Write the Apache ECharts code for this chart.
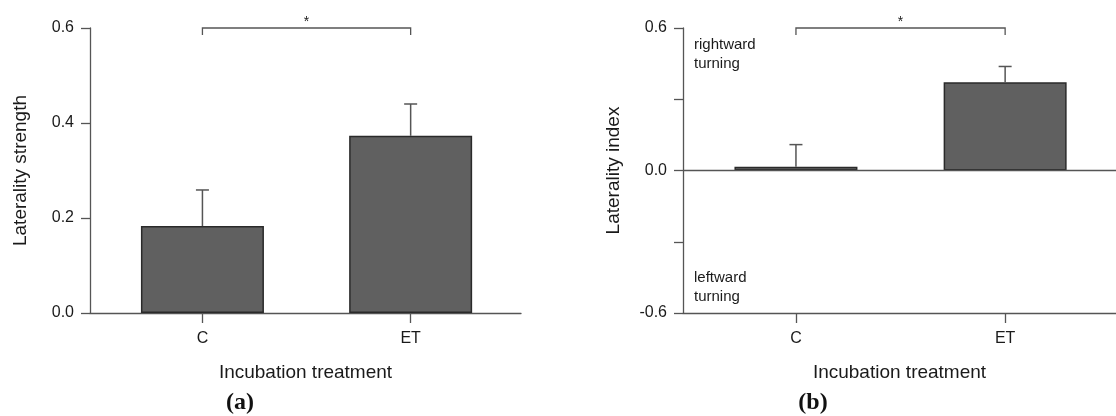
<!DOCTYPE html>
<html>
<head>
<meta charset="utf-8">
<script src="https://cdn.jsdelivr.net/npm/echarts@6/dist/echarts.min.js"></script>
<style>
html,body{margin:0;padding:0;background:#fff;}
#chart{width:1116px;height:416px;}
</style>
</head>
<body>
<div id="chart"></div>
<script>
// ---- data ----
const categories = ['C', 'ET'];
const strengthMean = [0.183, 0.373];
const strengthErrTop = [0.259, 0.440];
const indexMean = [0.016, 0.372];
const indexErrTop = [0.109, 0.438];
const yLabelsA = [0, 0.2, 0.4, 0.6];
const yLabelsB = [-0.6, 0, 0.6];
const sigPair = [0, 1];
const sigLevelA = 0.6;
const sigLevelB = 0.6;

const axisColor = '#555';
const textColor = '#1a1a1a';
const font = 'Liberation Sans, Arial, sans-serif';

function barData(means) { return means.map((v, i) => [i, v]); }
function errData(means, tops) { return means.map((v, i) => [i, v, tops[i]]); }

function errRender(params, api) {
  const x = api.value(0), y = api.value(1), t = api.value(2);
  const p0 = api.coord([x, y]);
  const p1 = api.coord([x, t]);
  return {
    type: 'group',
    children: [
      { type: 'line', shape: { x1: p0[0], y1: p0[1], x2: p1[0], y2: p1[1] }, style: { stroke: axisColor, lineWidth: 1.5 } },
      { type: 'line', shape: { x1: p1[0] - 6.5, y1: p1[1], x2: p1[0] + 6.5, y2: p1[1] }, style: { stroke: axisColor, lineWidth: 1.5 } }
    ]
  };
}

function bracketRender(params, api) {
  const a = api.value(0), b = api.value(1), lev = api.value(2);
  const p0 = api.coord([a, lev]);
  const p1 = api.coord([b, lev]);
  return {
    type: 'group',
    children: [
      { type: 'polyline', shape: { points: [[p0[0], p0[1] + 7], [p0[0], p0[1]], [p1[0], p1[1]], [p1[0], p1[1] + 7]] },
        style: { stroke: axisColor, lineWidth: 1.3, fill: null } },
      { type: 'text', style: { text: '*', x: (p0[0] + p1[0]) / 2, y: p0[1] - 6, align: 'center', verticalAlign: 'middle',
        font: '14px ' + font, fill: textColor } }
    ]
  };
}

function xAxisDef(gridIndex) {
  return {
    type: 'value', gridIndex: gridIndex, min: -0.54, max: 1.53,
    name: 'Incubation treatment', nameLocation: 'middle', nameGap: 50,
    nameTextStyle: { fontSize: 19, color: textColor, fontFamily: font },
    splitLine: { show: false },
    axisLine: { show: true, onZero: false, lineStyle: { color: axisColor, width: 1.3 } },
    axisTick: { show: true, customValues: [0, 1], length: 10, lineStyle: { color: axisColor, width: 1.3 } },
    axisLabel: { customValues: [0, 1], formatter: v => categories[Math.round(v)], fontSize: 16, color: textColor, fontFamily: font, margin: 18 }
  };
}

function yAxisDef(gridIndex, min, max, interval, name, labels) {
  return {
    type: 'value', gridIndex: gridIndex, min: min, max: max, interval: interval,
    name: name, nameLocation: 'middle', nameGap: 60,
    nameTextStyle: { fontSize: 19, color: textColor, fontFamily: font },
    splitLine: { show: false },
    axisLine: { show: true, onZero: false, lineStyle: { color: axisColor, width: 1.3 } },
    axisTick: { show: true, length: 9, lineStyle: { color: axisColor, width: 1.3 } },
    axisLabel: { customValues: labels, formatter: v => v.toFixed(1), fontSize: 16, color: textColor, fontFamily: font, margin: 16 }
  };
}

const chart = echarts.init(document.getElementById('chart'));
chart.setOption({
  animation: false,
  backgroundColor: '#fff',
  grid: [
    { left: 90, top: 28, width: 431, height: 285 },
    { left: 683, top: 28, width: 433, height: 285 }
  ],
  xAxis: [xAxisDef(0), xAxisDef(1)],
  yAxis: [
    yAxisDef(0, 0, 0.6, 0.2, 'Laterality strength', yLabelsA),
    yAxisDef(1, -0.6, 0.6, 0.3, 'Laterality index', yLabelsB)
  ],
  series: [
    {
      type: 'bar', xAxisIndex: 0, yAxisIndex: 0, data: barData(strengthMean), barWidth: 123,
      itemStyle: { color: '#606060', borderColor: '#2a2a2a', borderWidth: 1.5 }
    },
    {
      type: 'custom', xAxisIndex: 0, yAxisIndex: 0, data: errData(strengthMean, strengthErrTop), renderItem: errRender, z: 3
    },
    {
      type: 'custom', xAxisIndex: 0, yAxisIndex: 0, data: [[sigPair[0], sigPair[1], sigLevelA]], renderItem: bracketRender, clip: false
    },
    {
      type: 'bar', xAxisIndex: 1, yAxisIndex: 1, data: barData(indexMean), barWidth: 123,
      itemStyle: { color: '#606060', borderColor: '#2a2a2a', borderWidth: 1.5 },
      markLine: {
        silent: true, symbol: ['none', 'none'], label: { show: false },
        lineStyle: { color: axisColor, type: 'solid', width: 1.3 },
        data: [{ yAxis: 0 }]
      }
    },
    {
      type: 'custom', xAxisIndex: 1, yAxisIndex: 1, data: errData(indexMean, indexErrTop), renderItem: errRender, z: 3
    },
    {
      type: 'custom', xAxisIndex: 1, yAxisIndex: 1, data: [[sigPair[0], sigPair[1], sigLevelB]], renderItem: bracketRender, clip: false
    }
  ],
  graphic: [
    { type: 'text', left: 694, top: 35, style: { text: 'rightward\nturning', font: '15px ' + font, fill: textColor, lineHeight: 19 } },
    { type: 'text', left: 694, top: 268, style: { text: 'leftward\nturning', font: '15px ' + font, fill: textColor, lineHeight: 19 } },
    { type: 'text', x: 240, y: 403, style: { text: '(a)', font: 'bold 24px Liberation Serif, serif', fill: '#111', align: 'center', verticalAlign: 'middle' } },
    { type: 'text', x: 813, y: 403, style: { text: '(b)', font: 'bold 24px Liberation Serif, serif', fill: '#111', align: 'center', verticalAlign: 'middle' } }
  ]
});
</script>
</body>
</html>
